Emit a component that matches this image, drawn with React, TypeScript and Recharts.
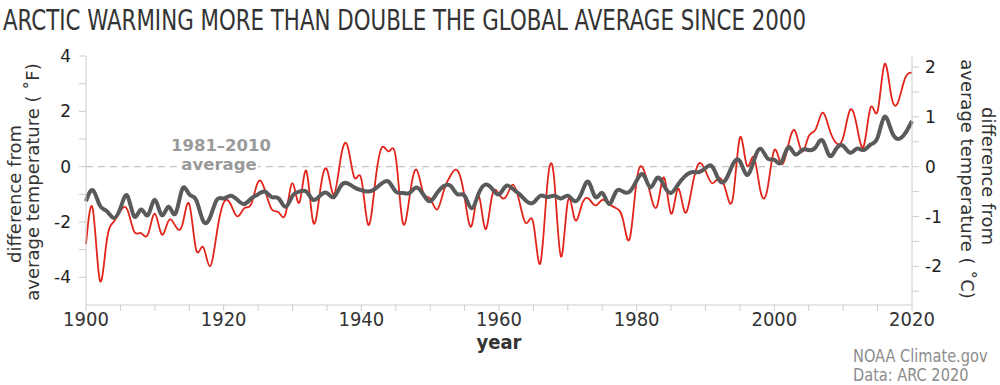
import React from 'react';
import { LineChart, Line, XAxis, YAxis, ReferenceLine } from 'recharts';

// annual anomalies, degrees F, 1900..2020
const ARCTIC_F = [
  -2.8, -1.55, -4.1, -2.7, -2.0, -1.6, -1.55, -2.35, -2.4, -2.45,
  -1.7, -2.45, -1.95, -2.15, -2.1, -1.35, -3.0, -2.9, -3.6, -2.4,
  -1.3, -1.35, -1.8, -1.5, -1.35, -0.55, -0.85, -1.55, -1.65, -1.7,
  -0.6, -1.3, -0.15, -2.0, -0.9, -0.1, -1.0, 0.3, 0.75, -0.4,
  -0.45, -2.1, -0.6, 0.7, 0.55, 0.35, -2.0, -1.1, -0.1, -0.95,
  -1.15, -1.55, -0.85, -0.3, -0.15, -1.1, -2.15, -1.0, -2.25, -1.05,
  -1.0, -1.1, -0.65, -1.3, -2.05, -2.05, -3.5, -0.7, -0.4, -3.25,
  -1.25, -1.9, -1.4, -1.15, -1.4, -1.2, -1.35, -1.5, -1.9, -2.6,
  -0.5, -0.1, -1.0, -1.4, -0.4, -1.7, -0.8, -1.65, -0.8, 0.1,
  -0.15, -0.6, -0.4, -0.9, -1.1, 1.05, 0.05, 0.35, -0.9, -0.8,
  0.6, 0.1, 0.75, 1.3, 0.55, 1.1, 1.35, 1.95, 1.35, 0.85,
  1.05, 2.05, 1.45, 0.75, 2.15, 2.0, 3.7, 2.55, 2.35, 3.2,
  3.4,
];

const GLOBAL_F = [
  -1.25, -0.85, -1.4, -1.6, -1.85, -1.5, -1.05, -1.8, -1.55, -1.75,
  -1.2, -1.75, -1.45, -1.7, -0.8, -1.0, -1.2, -1.95, -1.85, -1.2,
  -1.15, -1.05, -1.2, -1.35, -1.15, -1.0, -0.9, -1.1, -1.15, -1.45,
  -1.05, -0.9, -0.9, -1.2, -1.05, -0.95, -1.1, -0.7, -0.6, -0.75,
  -0.85, -0.9, -0.8, -0.6, -0.55, -0.9, -0.95, -0.95, -0.75, -1.0,
  -1.25, -0.95, -0.7, -0.7, -1.0, -1.05, -1.5, -1.0, -0.65, -0.8,
  -1.0, -0.7, -0.8, -1.0, -1.25, -1.3, -1.05, -1.1, -1.05, -1.15,
  -1.05, -1.25, -0.95, -0.55, -1.1, -0.95, -1.35, -0.9, -0.9, -0.9,
  -0.5, -0.3, -0.75, -0.4, -0.7, -0.95, -0.65, -0.35, -0.2, -0.2,
  -0.05, 0.0, -0.5, -0.45, 0.1, 0.2, -0.3, 0.2, 0.65, 0.3,
  0.25, 0.15, 0.7, 0.45, 0.6, 0.6, 0.7, 0.95, 0.4, 0.65,
  0.75, 0.5, 0.65, 0.6, 0.8, 1.05, 1.8, 1.3, 1.0, 1.2,
  1.65,
];

const START_YEAR = 1900;
const YEARS = ARCTIC_F.map((_, i) => START_YEAR + i);
const YEAR_TICKS = Array.from({ length: 25 }, (_, i) => 1900 + i * 5);
const F_TICKS = [-4, -3, -2, -1, 0, 1, 2, 3, 4];
const C_TICKS = [-2.5, -2, -1.5, -1, -0.5, 0, 0.5, 1, 1.5, 2];
const F_DOMAIN = [-5, 4];
const C_DOMAIN = F_DOMAIN.map((v) => v / 1.8);

const rows = YEARS.map((year, i) => ({ year, arctic: ARCTIC_F[i], global: GLOBAL_F[i] }));

const NARROW = "'Liberation Sans Narrow', 'DejaVu Sans Condensed', sans-serif";
const SANS = "'DejaVu Sans', Verdana, sans-serif";
const AXIS = '#cccccc';

const YearTick = (props: any) => {
  const { x, y, payload } = props;
  if (payload.value % 20 !== 0) return null;
  return (
    <text x={x} y={y} dy={13} textAnchor="middle" fontFamily={NARROW} fontSize={20} fill="#333">
      {payload.value}
    </text>
  );
};

export default function App() {
  return (
    <div style={{ position: 'absolute', left: 0, top: 0, width: 1000, height: 385, background: '#fff' }}>
      <LineChart width={1000} height={385} data={rows} margin={{ top: 56, right: 28, bottom: 50, left: 26 }}>
        <XAxis
          dataKey="year"
          type="number"
          domain={[1900, 2020]}
          ticks={YEAR_TICKS}
          interval={0}
          height={30}
          tickSize={6}
          axisLine={{ stroke: AXIS }}
          tickLine={{ stroke: AXIS }}
          tick={<YearTick />}
        />
        <YAxis
          yAxisId="f"
          domain={F_DOMAIN}
          ticks={F_TICKS}
          allowDataOverflow
          interval={0}
          width={60}
          tickSize={7}
          tickMargin={8}
          axisLine={{ stroke: AXIS }}
          tickLine={{ stroke: AXIS }}
          tickFormatter={(v: number) => (v % 2 === 0 ? String(v) : '')}
          tick={{ fontSize: 17, fill: '#222', fontFamily: SANS }}
        />
        <YAxis
          yAxisId="c"
          orientation="right"
          domain={C_DOMAIN}
          ticks={C_TICKS}
          allowDataOverflow
          interval={0}
          width={60}
          tickSize={7}
          tickMargin={6}
          axisLine={{ stroke: AXIS }}
          tickLine={{ stroke: AXIS }}
          tickFormatter={(v: number) => (Number.isInteger(v) ? String(v) : '')}
          tick={{ fontSize: 17, fill: '#222', fontFamily: SANS }}
        />
        <ReferenceLine yAxisId="f" y={0} stroke="#c4c4c4" strokeWidth={1.2} strokeDasharray="7 5" />
        <Line
          yAxisId="f"
          dataKey="arctic"
          type="natural"
          stroke="#e1251b"
          strokeWidth={1.8}
          dot={false}
          isAnimationActive={false}
        />
        <Line
          yAxisId="f"
          dataKey="global"
          type="natural"
          stroke="#5a5a5a"
          strokeWidth={4}
          dot={false}
          isAnimationActive={false}
        />
      </LineChart>
      <svg width={1000} height={385} style={{ position: 'absolute', left: 0, top: 0, pointerEvents: 'none' }}>
        <text x={3} y={30} fontFamily={NARROW} fontSize={29} fill="#333" textLength={803} lengthAdjust="spacingAndGlyphs">
          ARCTIC WARMING MORE THAN DOUBLE THE GLOBAL AVERAGE SINCE 2000
        </text>
        <rect x={178} y={158} width={80} height={18} fill="#fff" />
        <text x={221} y={151} textAnchor="middle" fontFamily={SANS} fontWeight="bold" fontSize={16.5} fill="#9a9a9a">
          1981–2010
        </text>
        <text x={219} y={170} textAnchor="middle" fontFamily={SANS} fontWeight="bold" fontSize={16.5} fill="#9a9a9a">
          average
        </text>
        <text transform="translate(21,194) rotate(-90)" textAnchor="middle" fontFamily={SANS} fontSize={18} fill="#333">
          difference from
        </text>
        <text transform="translate(39,182) rotate(-90)" textAnchor="middle" fontFamily={SANS} fontSize={18} fill="#333">
          average temperature ( ˚F)
        </text>
        <text transform="translate(982,176) rotate(90)" textAnchor="middle" fontFamily={SANS} fontSize={18} fill="#333">
          difference from
        </text>
        <text transform="translate(961,179) rotate(90)" textAnchor="middle" fontFamily={SANS} fontSize={18} fill="#333">
          average temperature ( ˚C)
        </text>
        <text x={499} y={349} textAnchor="middle" fontFamily={NARROW} fontWeight="bold" fontSize={20} fill="#333">
          year
        </text>
        <text transform="translate(853,362) scale(0.9,1)" fontFamily={NARROW} fontSize={18} fill="#8c8c8c">
          NOAA Climate.gov
        </text>
        <text transform="translate(853,381) scale(0.9,1)" fontFamily={NARROW} fontSize={18} fill="#8c8c8c">
          Data: ARC 2020
        </text>
      </svg>
    </div>
  );
}
